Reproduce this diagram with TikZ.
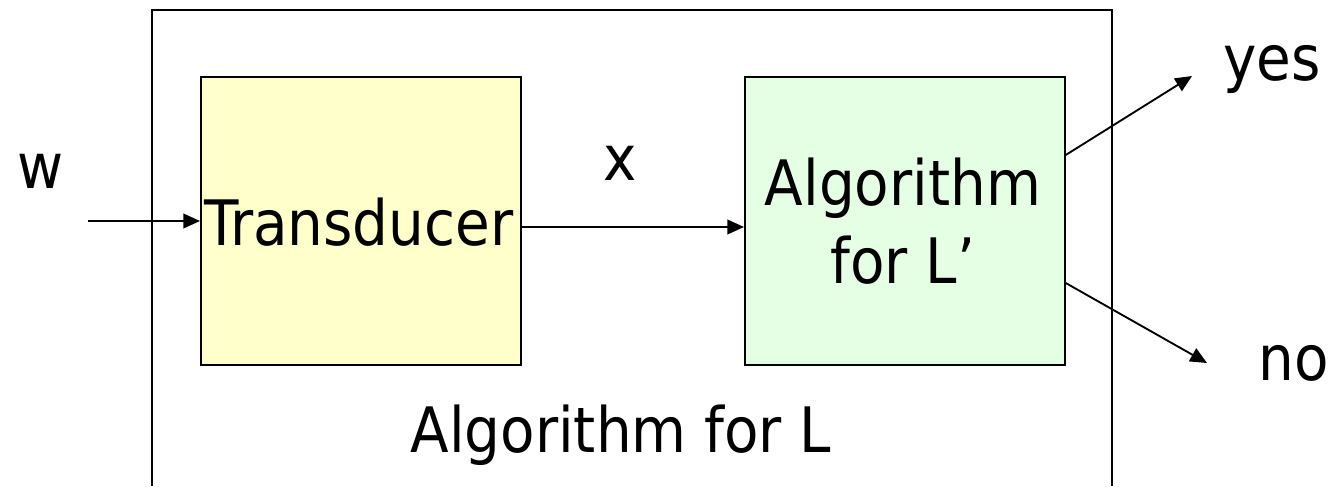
\documentclass[tikz,border=0pt]{standalone}
\usepackage{fontspec}
\setmainfont{DejaVu Sans Condensed}
\usetikzlibrary{arrows.meta}
\definecolor{transfill}{HTML}{FFFFCC}
\definecolor{algfill}{HTML}{E5FFE5}
\tikzset{
  block/.style={draw, line width=1.3pt, minimum width=240pt, minimum height=216pt, inner sep=0pt, anchor=north west},
  label/.style={font=\fontsize{47}{58}\selectfont, inner sep=0pt, anchor=base},
  flow/.style={line width=1.4pt, -{Triangle[length=12.5pt,width=11pt]}}
}
\begin{document}
\begin{tikzpicture}[x=0.75pt,y=-0.75pt]
  \useasboundingbox (0,0) rectangle (1333,486);
  % outer frame, open at the bottom
  \draw[line width=1.1pt] (152,486) -- (152,10) -- (1112,10) -- (1112,486);
  \node[label] (outer) at (621,452) {Algorithm for L};
  % inner blocks
  \node[block, fill=transfill] (trans) at (200,76) {};
  \node[label] (transl) at (359,245) {Transducer};
  \node[block, fill=algfill] (alg) at (744,76) {};
  \node[label] (algl1) at (903,205) {Algorithm};
  \node[label] (algl2) at (903,283) {for L’};
  % input and outputs
  \coordinate (win) at (88,221);
  \coordinate (yes) at (1192,76);
  \coordinate (no) at (1207,363);
  \draw[flow] (win) -- (trans.west |- win);
  \draw[flow] (trans.east |- 0,227) -- (alg.west |- 0,227);
  \draw[flow] (alg.east |- 0,155) -- (yes);
  \draw[flow] (alg.east |- 0,283) -- (no);
  % labels
  \node[label] (wl) at (41,188) {w};
  \node[label] (xl) at (620,180) {x};
  \node[label] (yesl) at (1272,80) {yes};
  \node[label] (nol) at (1294,380) {no};
\end{tikzpicture}
\end{document}
